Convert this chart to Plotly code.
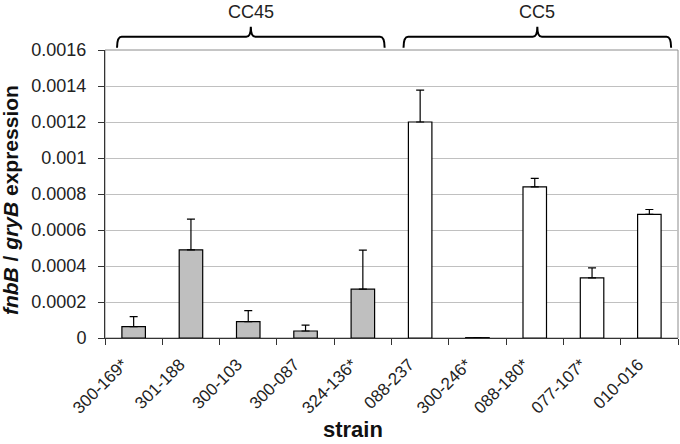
import plotly.graph_objects as go

strains = ["300-169*", "301-188", "300-103", "300-087", "324-136*",
           "088-237", "300-246*", "088-180*", "077-107*", "010-016"]
expression = [0.000063, 0.00049, 0.000091, 0.000039, 0.000271,
              0.0012, 0.000002, 0.00084, 0.000334, 0.000687]
error_up = [0.000056, 0.00017, 0.000061, 0.000033, 0.000217,
            0.000177, 0.0, 0.000047, 0.000056, 0.000027]
groups = [("CC45", 0, 4), ("CC5", 5, 9)]
group_colors = {"CC45": "#bfbfbf", "CC5": "#ffffff"}

y_ticks = [0, 0.0002, 0.0004, 0.0006, 0.0008, 0.001, 0.0012, 0.0014, 0.0016]
y_ticktext = ["0", "0.0002", "0.0004", "0.0006", "0.0008", "0.001", "0.0012", "0.0014", "0.0016"]

x_title = "strain"
y_title = "<b><i>fnbB</i> / <i>gryB</i> expression</b>"

colors = []
for name, a, b in groups:
    colors += [group_colors[name]] * (b - a + 1)

fig = go.Figure()
fig.add_trace(go.Bar(
    x=strains, y=expression,
    marker=dict(color=colors, line=dict(color="#000000", width=1.2)),
    error_y=dict(type="data", array=error_up, arrayminus=[0] * len(error_up),
                 symmetric=False, color="#000000", thickness=1.2, width=4),
    width=0.41,
))

n = len(strains)
shapes = [dict(type="rect", xref="paper", yref="paper", x0=0, x1=1, y0=0, y1=1,
               line=dict(color="#8c8c8c", width=1), layer="below")]
annotations = []
yb, yt, ye = 1.046, 1.081, 1.008
dx = 0.008
for name, a, b in groups:
    L = (a - 0.29 + 0.5) / n
    R = (b + 0.38 + 0.5) / n
    M = (L + R) / 2
    path = (f"M {L},{ye} Q {L},{yb} {L+dx},{yb} L {M-dx},{yb} Q {M},{yb} {M},{yt} "
            f"Q {M},{yb} {M+dx},{yb} L {R-dx},{yb} Q {R},{yb} {R},{ye}")
    shapes.append(dict(type="path", xref="paper", yref="paper", path=path,
                       line=dict(color="#000000", width=2)))
    annotations.append(dict(text=name, xref="paper", yref="paper", x=M, y=1.131,
                            xanchor="center", yanchor="middle", showarrow=False,
                            font=dict(size=18, color="#222222")))

annotations.append(dict(text=f"<b>{x_title}</b>", xref="paper", yref="paper",
                        x=0.432, y=-0.366, xanchor="center", yanchor="bottom",
                        borderpad=0, showarrow=False,
                        font=dict(size=22, color="#111111")))
annotations.append(dict(text=y_title, xref="paper", yref="paper",
                        x=-0.1658, y=0.479, xanchor="center", yanchor="middle",
                        textangle=-90, showarrow=False,
                        font=dict(size=21, color="#111111")))

fig.update_layout(
    width=680, height=444,
    margin=dict(l=105, r=2, t=50, b=106, autoexpand=False),
    paper_bgcolor="white", plot_bgcolor="white",
    font=dict(family="Liberation Sans, Arial, sans-serif", color="#222222"),
    showlegend=False,
    shapes=shapes, annotations=annotations,
    xaxis=dict(
        type="category", tickson="boundaries", ticks="outside", ticklen=6,
        tickcolor="#333333", tickwidth=1, showline=True, linecolor="#333333",
        linewidth=1, tickangle=-45, tickfont=dict(size=17, color="#222222"),
        ticklabelshift=-11, ticklabelstandoff=9,
        range=[-0.5, n - 0.5], showgrid=False, automargin=False,
    ),
    yaxis=dict(
        range=[0, 0.0016], tickvals=y_ticks, ticktext=y_ticktext,
        ticks="outside", ticklen=6, tickcolor="#333333", showline=True,
        linecolor="#333333", linewidth=1, showgrid=True, gridcolor="#c0c0c0",
        gridwidth=1, tickfont=dict(size=18, color="#222222"), zeroline=False,
        ticklabelstandoff=8, automargin=False,
    ),
)

fig.write_html("out.html", config={"displayModeBar": False},
               post_script="document.body.style.margin='0';")
